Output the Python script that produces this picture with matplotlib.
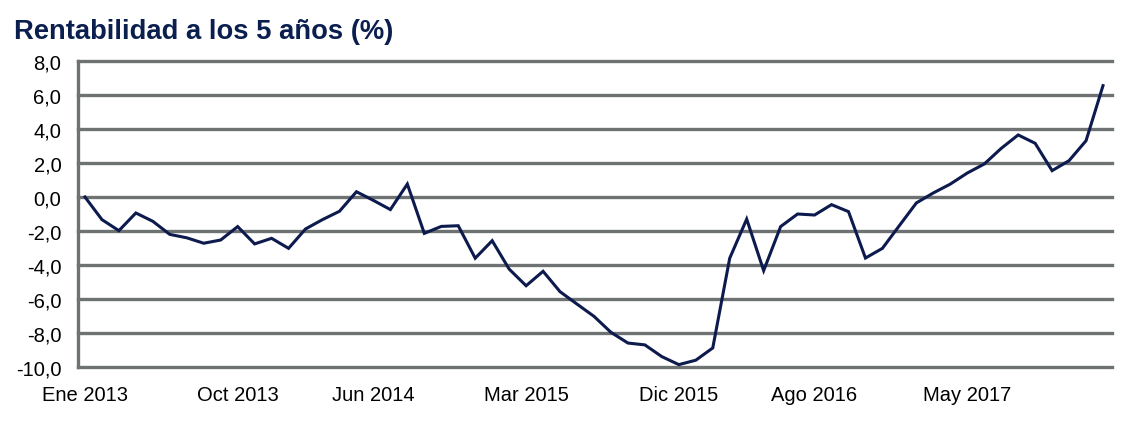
import matplotlib
matplotlib.use("Agg")
import matplotlib.pyplot as plt

title = "Rentabilidad a los 5 años (%)"
values = [0.0, -1.33, -1.98, -0.94, -1.43, -2.2, -2.4, -2.72, -2.53, -1.74,
          -2.76, -2.43, -3.02, -1.88, -1.33, -0.84, 0.31, -0.2, -0.74, 0.76,
          -2.14, -1.73, -1.69, -3.6, -2.57, -4.24, -5.22, -4.37, -5.57, -6.3,
          -7.02, -7.96, -8.59, -8.7, -9.39, -9.86, -9.6, -8.88, -3.6, -1.3,
          -4.33, -1.74, -1.0, -1.06, -0.45, -0.86, -3.59, -3.02, -1.68, -0.35,
          0.24, 0.76, 1.41, 1.94, 2.86, 3.65, 3.16, 1.55, 2.14, 3.31, 6.55]
xtick_pos = [0, 9, 17, 26, 35, 43, 52]
xtick_labels = ["Ene 2013", "Oct 2013", "Jun 2014", "Mar 2015", "Dic 2015", "Ago 2016", "May 2017"]
ytick_vals = [8, 6, 4, 2, 0, -2, -4, -6, -8, -10]
ytick_labels = ["8,0", "6,0", "4,0", "2,0", "0,0", "-2,0", "-4,0", "-6,0", "-8,0", "-10,0"]

plt.rcParams['font.family'] = ['Liberation Sans', 'DejaVu Sans']

fig = plt.figure(figsize=(11.29, 4.27), dpi=100)
ax = fig.add_axes([78/1129, 1-368/427, (1112-78)/1129, (368-62)/427])

grid_color = "#6f7273"
for v in ytick_vals:
    ax.axhline(v, color=grid_color, lw=2.4, zorder=1, clip_on=False)

ax.plot(range(len(values)), values, color="#0c1a4d", lw=2.2, zorder=3,
        solid_joinstyle="miter", clip_on=False)

ax.set_xlim(-0.41, 60.53)
ax.set_ylim(-10, 8)
for s in ["top", "right", "bottom"]:
    ax.spines[s].set_visible(False)
ax.spines["left"].set_color(grid_color)
ax.spines["left"].set_linewidth(2.4)
ax.spines["left"].set_zorder(2)
ax.spines["left"].set_capstyle("projecting")

ax.set_yticks(ytick_vals)
ax.set_yticklabels(ytick_labels)
ax.set_xticks(xtick_pos)
ax.set_xticklabels(xtick_labels)
ax.tick_params(axis="y", length=0, pad=12, labelsize=14.5, labelcolor="black")
ax.tick_params(axis="x", length=0, pad=13, labelsize=14.5, labelcolor="black")

fig.text(14/1129, 1-32/427, title, fontsize=19.7, fontweight="bold",
         color="#0b1f4f", ha="left", va="center")

fig.savefig("out.png", dpi=100)
